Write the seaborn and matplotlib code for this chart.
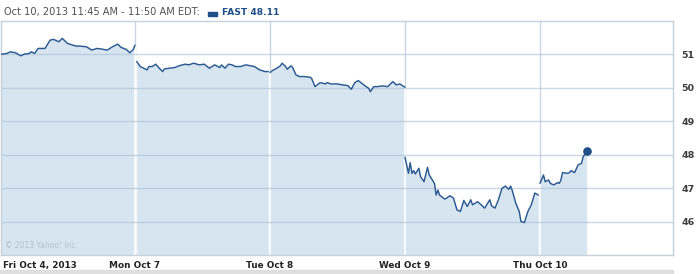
import numpy as np
import pandas as pd
import matplotlib
matplotlib.use("Agg")
import matplotlib.pyplot as plt
import seaborn as sns

# ---------------- data ----------------
day_labels = ["Fri Oct 4, 2013", "Mon Oct 7", "Tue Oct 8", "Wed Oct 9", "Thu Oct 10"]

# minutes after the 9:30 open, and price
fri_min = [0, 20, 30, 45, 60, 70, 85, 90, 100, 110, 130, 145, 155, 170, 180, 195, 210, 220,
           230, 250, 265, 280, 295, 310, 325, 340, 350, 365, 375, 385, 390]
fri_px = [51.00, 51.03, 51.08, 51.05, 50.96, 51.01, 51.03, 51.08, 51.03, 51.18, 51.18, 51.43,
          51.45, 51.38, 51.48, 51.33, 51.28, 51.25, 51.25, 51.23, 51.13, 51.18, 51.16, 51.13,
          51.23, 51.31, 51.21, 51.15, 51.05, 51.15, 51.28]

mon_min = [5, 15, 25, 35, 40, 50, 60, 70, 80, 85, 100, 115, 130, 145, 155, 170, 185, 200, 215,
           230, 245, 250, 260, 270, 280, 290, 305, 320, 330, 345, 360, 375, 385]
mon_px = [50.79, 50.64, 50.59, 50.54, 50.64, 50.64, 50.71, 50.59, 50.49, 50.57, 50.59, 50.61,
          50.67, 50.71, 50.69, 50.74, 50.69, 50.71, 50.59, 50.69, 50.61, 50.69, 50.59, 50.71,
          50.69, 50.64, 50.64, 50.69, 50.67, 50.64, 50.54, 50.49, 50.49]

tue_min = [0, 10, 15, 30, 35, 45, 50, 60, 65, 75, 85, 100, 115, 120, 130, 140, 145, 160, 165,
           175, 195, 210, 225, 235, 245, 255, 265, 275, 285, 290, 300, 310, 325, 340, 355, 365,
           375, 390]
tue_px = [50.46, 50.54, 50.56, 50.66, 50.74, 50.64, 50.56, 50.66, 50.62, 50.39, 50.34, 50.34,
          50.32, 50.29, 50.04, 50.12, 50.16, 50.12, 50.16, 50.12, 50.12, 50.09, 50.07, 49.96,
          50.16, 50.22, 50.14, 50.06, 49.99, 49.89, 50.04, 50.04, 50.06, 50.04, 50.19, 50.09,
          50.12, 50.02]

wed_min = [0, 10, 15, 20, 25, 30, 40, 45, 55, 65, 70, 85, 90, 95, 100, 115, 120, 130, 140, 150,
           160, 170, 180, 190, 195, 210, 220, 230, 245, 250, 260, 270, 280, 290, 300, 305, 310,
           320, 330, 335, 345, 355, 365, 375, 385]
wed_px = [47.93, 47.45, 47.77, 47.45, 47.53, 47.43, 47.60, 47.35, 47.20, 47.63, 47.40, 47.15,
          46.80, 46.95, 46.80, 46.68, 46.71, 46.78, 46.71, 46.36, 46.31, 46.64, 46.46, 46.66,
          46.51, 46.60, 46.51, 46.41, 46.66, 46.48, 46.41, 46.66, 47.00, 47.07, 46.97, 47.07,
          46.93, 46.56, 46.31, 46.01, 45.98, 46.31, 46.51, 46.86, 46.80]

thu_min = [0, 10, 15, 25, 30, 40, 50, 55, 60, 65, 80, 85, 90, 100, 110, 120, 125, 135]
thu_px = [47.15, 47.40, 47.20, 47.25, 47.15, 47.10, 47.17, 47.15, 47.23, 47.47, 47.45, 47.47,
          47.53, 47.47, 47.70, 47.75, 47.95, 48.11]

y_ticks = [46, 47, 48, 49, 50, 51]
ticker = "FAST"
last_price = 48.11
header = "Oct 10, 2013 11:45 AM - 11:50 AM EDT:"
copyright_txt = "\u00a9 2013 Yahoo! Inc."

# ---------------- build table ----------------
days = [(fri_min, fri_px), (mon_min, mon_px), (tue_min, tue_px), (wed_min, wed_px), (thu_min, thu_px)]
rows = []
for d, (mins, prices) in enumerate(days):
    for m, p in zip(mins, prices):
        rows.append({"day": d, "x": d + m / 390.0, "price": p})
df = pd.DataFrame(rows)

# ---------------- style ----------------
sns.set_theme(style="white")
plt.rcParams["font.family"] = ["DejaVu Sans"]

W, H = 698, 274
LINE = "#2a5a92"
FILL = "#d7e5f0"
GRID = "#c9d6e1"
YMIN, YMAX = 45.01, 52.0

fig = plt.figure(figsize=(W / 100, H / 100), dpi=100)
ax = fig.add_axes([1 / W, 1 - 255 / H, (673 - 1) / W, (255 - 21) / H])
ax.set_xlim(1 / 135, 673 / 135)
ax.set_ylim(YMIN, YMAX)

# vertical day separators (above the fill region)
ax.vlines([1, 2, 3, 4], YMIN, YMAX, color=GRID, lw=1, zorder=0.5)

# fills per day
for d in range(5):
    sub = df[df.day == d]
    ax.fill_between(sub.x, sub.price, YMIN, color=FILL, lw=0, zorder=1)

# white separators inside the fill
for d in range(1, 5):
    top = max(days[d - 1][1][-1], days[d][1][0])
    ax.vlines(d, YMIN, top, color="white", lw=1.2, zorder=1.6)

# horizontal grid
ax.hlines(y_ticks, 1 / 135, 673 / 135, color="#a9bfd2", alpha=0.6, lw=1, zorder=2)

sns.lineplot(data=df, x="x", y="price", units="day", estimator=None, color=LINE,
             lw=1.05, ax=ax, zorder=3, legend=False)
last = df.iloc[-1]
ax.plot([last.x], [last.price], "o", ms=5.2, color="#1f4f88", zorder=4)

# spines
for s in ["top", "right", "bottom", "left"]:
    ax.spines[s].set_visible(True)
    ax.spines[s].set_color("#c5d1db")
    ax.spines[s].set_linewidth(1)

ax.set_xlabel("")
ax.set_ylabel("")
ax.yaxis.tick_right()
ax.set_yticks(y_ticks)
ax.set_yticklabels([str(t) for t in y_ticks], fontsize=6.8, fontweight="bold", color="#3c3c3c")
ax.tick_params(axis="y", length=0, pad=6)

ax.set_xticks([3 / 135, 1, 2, 3, 4])
ax.set_xticklabels(day_labels, fontsize=6.4, fontweight="bold", color="#222222")
ax.tick_params(axis="x", length=0, pad=4.5)
ax.get_xticklabels()[0].set_ha("left")

# header
fig.text(4 / W, 1 - 12.5 / H, header, fontsize=7.1, color="#505050", va="center", ha="left")
fig.patches.append(plt.Rectangle((208 / W, 1 - 15.5 / H), 9 / W, 3.5 / H,
                                 transform=fig.transFigure, color="#1f4f88", figure=fig))
fig.text(222 / W, 1 - 12.5 / H, f"{ticker} {last_price:.2f}", fontsize=6.6, color="#1f4f88",
         fontweight="bold", va="center", ha="left")

# copyright
fig.text(5 / W, 1 - 246 / H, copyright_txt, fontsize=5.5, color="#b3c1cd", va="center", ha="left")

# bottom band
fig.patches.append(plt.Rectangle((0, 0), 673 / W, 4.5 / H, transform=fig.transFigure,
                                 color="#dedede", figure=fig))

fig.savefig("out.png", dpi=100)
